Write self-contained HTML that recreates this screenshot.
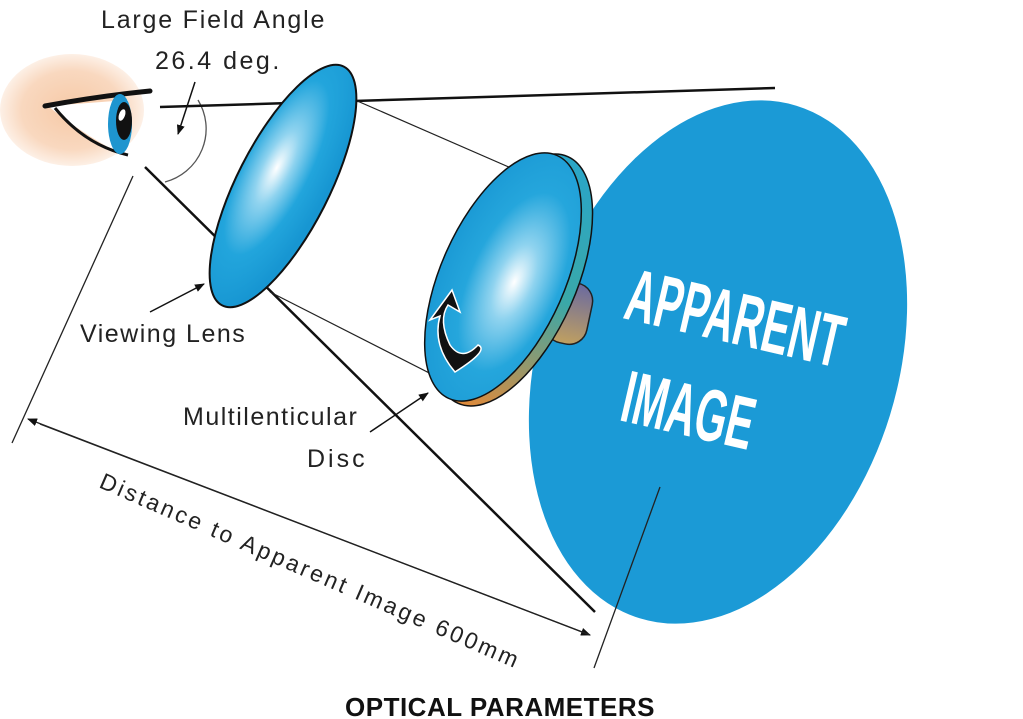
<!DOCTYPE html>
<html><head><style>
html,body{margin:0;padding:0;background:#fff;}
svg{display:block;font-family:"Liberation Sans",sans-serif;}
</style></head><body>
<svg width="1023" height="719" viewBox="0 0 1023 719" xmlns="http://www.w3.org/2000/svg">
<defs>
<radialGradient id="skin" cx="0.5" cy="0.5" r="0.5">
<stop offset="0" stop-color="#f6c9a6"/><stop offset="0.7" stop-color="#f9d8bf"/><stop offset="1" stop-color="#fdf0e6"/>
</radialGradient>
<radialGradient id="lens" cx="0.35" cy="0.45" r="0.6">
<stop offset="0" stop-color="#ffffff"/><stop offset="0.25" stop-color="#8fd3ef"/><stop offset="0.6" stop-color="#22a5dc"/><stop offset="1" stop-color="#1796d2"/>
</radialGradient>
<radialGradient id="disc" cx="0.6" cy="0.5" r="0.6">
<stop offset="0" stop-color="#ffffff"/><stop offset="0.25" stop-color="#8fd3ef"/><stop offset="0.6" stop-color="#25a6dc"/><stop offset="1" stop-color="#1b9ad5"/>
</radialGradient>
<linearGradient id="rim" x1="0" y1="0" x2="0" y2="1">
<stop offset="0" stop-color="#2aa6c8"/><stop offset="0.5" stop-color="#3aa8a8"/><stop offset="1" stop-color="#e08a3a"/>
</linearGradient>
<linearGradient id="knob" x1="0" y1="0" x2="0" y2="1">
<stop offset="0" stop-color="#6a6aa0"/><stop offset="1" stop-color="#c0a060"/>
</linearGradient>
<marker id="ah" markerWidth="10" markerHeight="8" refX="9" refY="4" orient="auto" markerUnits="userSpaceOnUse">
<path d="M0,0 L10,4 L0,8 Z" fill="#111"/></marker>
</defs>

<ellipse cx="72" cy="110" rx="72" ry="56" fill="url(#skin)"/>
<path d="M48,106 Q90,140 130,158 L128,100 Z" fill="#fff"/>
<path d="M45,106 Q100,96 150,91" stroke="#111" stroke-width="5" fill="none" stroke-linecap="round"/>
<path d="M55,108 Q85,145 128,155" stroke="#111" stroke-width="3" fill="none"/>
<ellipse cx="120" cy="124" rx="12" ry="30" fill="#1e95cf"/>
<ellipse cx="124" cy="121" rx="8" ry="19" fill="#111"/>
<ellipse cx="122" cy="115" rx="3" ry="6" fill="#fff" transform="rotate(20 122 115)"/>

<path d="M198,100 A55,55 0 0 1 165,182" stroke="#555" stroke-width="1.3" fill="none"/>
<line x1="195" y1="82" x2="178" y2="134" stroke="#111" stroke-width="1.5" marker-end="url(#ah)"/>

<line x1="160" y1="107" x2="775" y2="88" stroke="#111" stroke-width="2.5"/>
<line x1="145" y1="167" x2="595" y2="612" stroke="#111" stroke-width="2.5"/>

<ellipse cx="718" cy="362" rx="180" ry="268" fill="#1b9ad6" transform="rotate(17 718 362)"/>
<g transform="translate(622,318) rotate(13) scale(0.55,1)"><text x="0" y="0" font-size="74" font-weight="bold" fill="#fff">APPARENT</text></g>
<g transform="translate(618,420) rotate(13) scale(0.55,1)"><text x="0" y="0" font-size="74" font-weight="bold" fill="#fff">IMAGE</text></g>

<line x1="355" y1="100" x2="527" y2="175" stroke="#222" stroke-width="1.2"/>
<line x1="270" y1="292" x2="447" y2="382" stroke="#222" stroke-width="1.2"/>

<rect x="548" y="282" width="42" height="62" rx="18" fill="url(#knob)" stroke="#222" stroke-width="1.5" transform="rotate(12 569 313)"/>
<ellipse cx="513" cy="280" rx="63" ry="135" fill="url(#rim)" stroke="#111" stroke-width="1.5" transform="rotate(24 513 280)"/>
<ellipse cx="503" cy="277" rx="62" ry="133" fill="url(#disc)" stroke="#111" stroke-width="1.5" transform="rotate(24 503 277)"/>
<path d="M455,372 Q490,350 478,345 Q462,362 450,345 Q438,320 448,305 L460,312 L452,290 L430,320 L440,316 Q432,345 455,372 Z" fill="#111" stroke="#fff" stroke-width="1.5"/>

<ellipse cx="283" cy="186" rx="46" ry="134" fill="url(#lens)" stroke="#111" stroke-width="2" transform="rotate(27 283 186)"/>

<line x1="133" y1="176" x2="12" y2="443" stroke="#222" stroke-width="1.3"/>
<line x1="660" y1="487" x2="594" y2="668" stroke="#222" stroke-width="1.3"/>
<line x1="40" y1="424" x2="590" y2="635" stroke="#222" stroke-width="1.3" marker-end="url(#ah)"/>
<line x1="590" y1="635" x2="28" y2="419" stroke="#222" stroke-width="1.3" marker-end="url(#ah)"/>
<text transform="translate(98,487) rotate(23.5)" font-size="23" letter-spacing="2.8" fill="#222">Distance to Apparent Image 600mm</text>

<text x="101" y="28" font-size="25" letter-spacing="1.8" fill="#222">Large Field Angle</text>
<text x="155" y="69" font-size="25" letter-spacing="2.5" fill="#222">26.4 deg.</text>
<text x="80" y="342" font-size="25" letter-spacing="1.5" fill="#222">Viewing Lens</text>
<line x1="150" y1="312" x2="204" y2="284" stroke="#111" stroke-width="1.5" marker-end="url(#ah)"/>
<text x="183" y="425" font-size="25" letter-spacing="1.5" fill="#222">Multilenticular</text>
<text x="307" y="467" font-size="25" letter-spacing="3" fill="#222">Disc</text>
<line x1="370" y1="432" x2="428" y2="393" stroke="#111" stroke-width="1.5" marker-end="url(#ah)"/>

<text x="500" y="716" font-size="26" font-weight="bold" fill="#111" text-anchor="middle" letter-spacing="0.5">OPTICAL PARAMETERS</text>
</svg>
</body></html>
